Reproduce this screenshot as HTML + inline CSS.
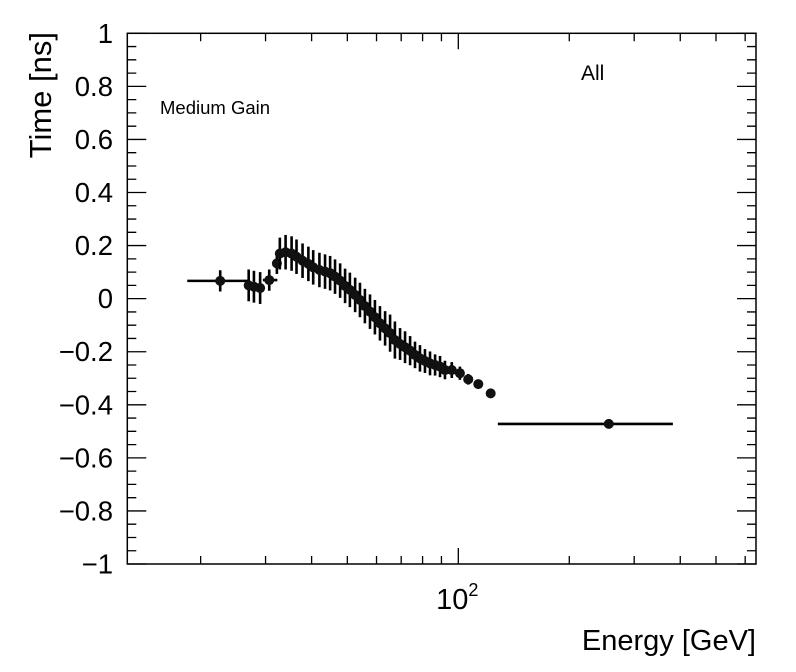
<!DOCTYPE html>
<html><head><meta charset="utf-8"><style>
body{margin:0;background:#fff;}
svg{display:block;font-family:"Liberation Sans",sans-serif;}
</style></head><body>
<svg id="chart" width="796" height="672" viewBox="0 0 796 672">
<rect width="796" height="672" fill="#fff"/>
<g id="axes"></g>
<g id="marks"></g>
<text transform="translate(51,32) rotate(-90)" text-anchor="end" font-size="31">Time [ns]</text>
<text x="756" y="650" text-anchor="end" font-size="29">Energy [GeV]</text>
<text x="160" y="114" font-size="18.5">Medium Gain</text>
<text x="581" y="80" font-size="21">All</text>
</svg>
<script>
const energies=[22.6,27.0,27.9,29.0,30.7,32.2,32.8,34.0,35.3,36.4,37.8,39.2,40.4,42.0,43.5,44.9,46.3,47.8,49.3,50.8,52.5,54.1,55.8,57.6,59.4,61.3,63.3,65.3,67.3,69.5,71.7,74.0,76.3,78.7,81.2,83.8,86.5,89.2,92.0,96,101,106.4,113.3,122.4,256];
const times=[0.067,0.05,0.045,0.04,0.07,0.133,0.17,0.175,0.17,0.158,0.143,0.131,0.118,0.108,0.102,0.096,0.083,0.068,0.048,0.033,0.014,-0.005,-0.028,-0.049,-0.07,-0.093,-0.112,-0.13,-0.156,-0.171,-0.183,-0.196,-0.212,-0.225,-0.235,-0.244,-0.25,-0.256,-0.269,-0.269,-0.281,-0.304,-0.322,-0.357,-0.472];
const timeErrors=[0.04,0.06,0.06,0.06,0.04,0.04,0.06,0.065,0.065,0.065,0.065,0.065,0.065,0.065,0.065,0.065,0.065,0.065,0.065,0.065,0.065,0.065,0.065,0.065,0.065,0.065,0.065,0.07,0.07,0.06,0.06,0.055,0.05,0.05,0.045,0.045,0.04,0.04,0.035,0.03,0.025,0.02,0.015,0.012,0.005];
const energyLow=[18.4,27.0,27.9,29.0,29.5,32.2,32.8,34.0,35.3,36.4,37.8,39.2,40.4,42.0,43.5,44.9,46.3,47.8,49.3,50.8,52.5,54.1,55.8,57.6,59.4,61.3,63.3,65.3,67.3,69.5,71.7,74.0,76.3,78.7,81.2,83.8,86.5,89.2,92.0,96,101,106.4,110,119,128];
const energyHigh=[27.2,27.0,27.9,29.0,32.3,32.2,32.8,34.0,35.3,36.4,37.8,39.2,40.4,42.0,43.5,44.9,46.3,47.8,49.3,50.8,52.5,54.1,55.8,57.6,59.4,61.3,63.3,65.3,67.3,69.5,71.7,74.0,76.3,78.7,81.2,83.8,86.5,89.2,92.0,96,101,106.4,116,126,382];
const yTickLabels=["−1","−0.8","−0.6","−0.4","−0.2","0","0.2","0.4","0.6","0.8","1"];
const yTickValues=[-1,-0.8,-0.6,-0.4,-0.2,0,0.2,0.4,0.6,0.8,1];

const L=127.3,R=756,T=33.3,B=564,XMIN=12.65,XMAX=642,YMIN=-1,YMAX=1;
const NS="http://www.w3.org/2000/svg";
function X(e){return L+(R-L)*(Math.log10(e)-Math.log10(XMIN))/(Math.log10(XMAX)-Math.log10(XMIN));}
function Y(v){return B-(B-T)*(v-YMIN)/(YMAX-YMIN);}
function mk(tag,attrs,parent){const el=document.createElementNS(NS,tag);for(const k in attrs)el.setAttribute(k,attrs[k]);parent.appendChild(el);return el;}
const ax=document.getElementById('axes'),mg=document.getElementById('marks');
let f=mk('rect',{x:L,y:T,width:R-L,height:B-T,fill:'none',stroke:'#000','stroke-width':1.5},ax);


for(let i=0;i<=40;i++){const v=-1+i*0.05;const y=Y(v);const major=i%4===0;const len=major?19:9;
 let t=mk('path',{d:`M${L},${y}h${len}M${R},${y}h${-len}`,stroke:'#000','stroke-width':1.3},ax);
 
 }
yTickValues.forEach((v,i)=>{let t=mk('text',{x:113,y:Y(v)+9.5,'text-anchor':'end','font-size':27.5},ax);t.textContent=yTickLabels[i];
 
 });
for(let d=10;d<=1000;d*=10){for(let m=1;m<10;m++){const e=m*d;if(e<XMIN||e>XMAX)continue;const x=X(e);const len=m===1?16:8;
 let t=mk('path',{d:`M${x},${B}v${-len}M${x},${T}v${len}`,stroke:'#000','stroke-width':1.3},ax);
 
 }}
let xl=mk('text',{x:X(100)-1,y:609,'text-anchor':'middle','font-size':29},ax);xl.innerHTML='10<tspan dy="-13" font-size="18">2</tspan>';


energies.forEach((e,i)=>{const x=X(e),y=Y(times[i]);
 let g=mk('g',{},mg);
 
 
 mk('path',{d:`M${X(energyLow[i])},${y}H${X(energyHigh[i])}M${x},${Y(times[i]+timeErrors[i])}V${Y(times[i]-timeErrors[i])}`,stroke:'#000','stroke-width':2.6},g);
 mk('circle',{cx:x,cy:y,r:5,fill:'#111'},g);});
</script>
</body></html>
